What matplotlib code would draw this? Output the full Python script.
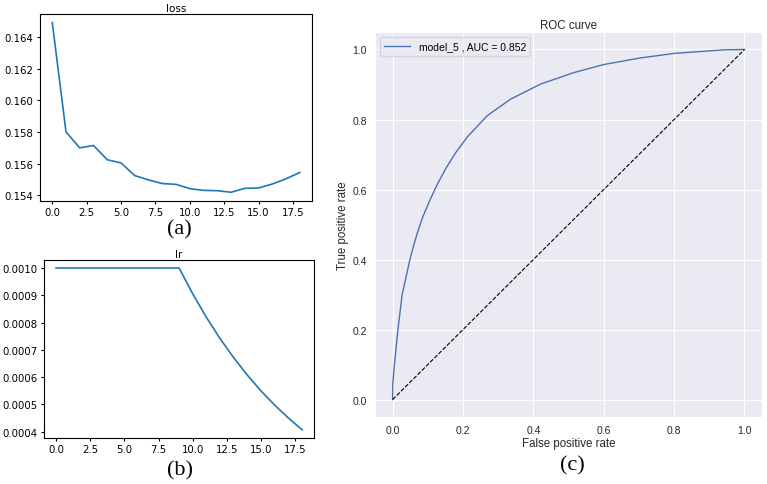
import matplotlib
matplotlib.use('Agg')
import matplotlib.pyplot as plt
import seaborn as sns

epochs = list(range(19))
loss = [0.1649, 0.1580, 0.1570, 0.15715, 0.15625, 0.15605, 0.15525, 0.15498,
        0.15475, 0.15470, 0.15443, 0.15432, 0.15430, 0.15420, 0.15445, 0.15447,
        0.15472, 0.15505, 0.15545]
lr = [0.0010, 0.0010, 0.0010, 0.0010, 0.0010, 0.0010, 0.0010, 0.0010, 0.0010,
      0.0010, 0.000905, 0.000819, 0.000741, 0.000671, 0.000607, 0.000549,
      0.000497, 0.000450, 0.000407]

fpr = [0.0, 0.0, 0.005, 0.015, 0.027, 0.049, 0.061, 0.070, 0.085, 0.106,
       0.127, 0.151, 0.179, 0.212, 0.269, 0.335, 0.420, 0.515, 0.600,
       0.705, 0.802, 0.941, 1.0]
tpr = [0.0, 0.04, 0.10, 0.20, 0.30, 0.40, 0.445, 0.475, 0.52, 0.57,
       0.615, 0.66, 0.705, 0.75, 0.811, 0.858, 0.901, 0.934, 0.957,
       0.976, 0.989, 0.999, 1.0]
chance = [0.0, 1.0]
roc_label = 'model_5 , AUC = 0.852'
panel_labels = ['(a)', '(b)', '(c)']


def main() -> None:
    fig = plt.figure(figsize=(7.67, 4.85), dpi=100)

    # (a) loss
    ax_a = fig.add_axes([0.052, 0.584, 0.355, 0.385])
    ax_a.plot(epochs, loss, color='#1f77b4', linewidth=1.2)
    ax_a.set_title('loss', fontsize=7.5, pad=2)
    ax_a.set_yticks([0.154, 0.156, 0.158, 0.160, 0.162, 0.164])
    ax_a.tick_params(labelsize=7.3, length=2.5, pad=2)

    # (b) lr
    ax_b = fig.add_axes([0.057, 0.095, 0.353, 0.367])
    ax_b.plot(epochs, lr, color='#1f77b4', linewidth=1.2)
    ax_b.set_title('lr', fontsize=7.5, pad=2)
    ax_b.tick_params(labelsize=7.3, length=2.5, pad=2)

    # (c) ROC curve, seaborn style
    with sns.axes_style('darkgrid'):
        ax_c = fig.add_axes([0.489, 0.138, 0.5046, 0.794])
    ax_c.plot(fpr, tpr, color='#4c72b0', linewidth=1.0, label=roc_label)
    ax_c.plot(chance, chance, 'k--', linewidth=0.8)
    ax_c.set_title('ROC curve', fontsize=8.3, pad=3, color='.15',
                   family='Liberation Sans')
    ax_c.set_xlabel('False positive rate', fontsize=8.3, labelpad=1,
                    color='.15', family='Liberation Sans')
    ax_c.set_ylabel('True positive rate', fontsize=8.3, labelpad=2,
                    color='.15', family='Liberation Sans')
    ax_c.tick_params(labelsize=7.5, length=0, pad=6, labelcolor='.15',
                     labelfontfamily='Liberation Sans')
    leg = ax_c.legend(loc='upper left', frameon=True,
                      prop={'family': 'Liberation Sans', 'size': 7.5},
                      handlelength=2.5)
    leg.get_frame().set_facecolor('#EAEAF2')
    leg.get_frame().set_edgecolor('#d0d0d8')

    serif = ['Liberation Serif', 'DejaVu Serif']
    fig.text(179 / 767, 1 - 230 / 485, panel_labels[0], fontsize=16,
             family=serif, ha='center', va='center')
    fig.text(180 / 767, 1 - 471 / 485, panel_labels[1], fontsize=16,
             family=serif, ha='center', va='center')
    fig.text(572 / 767, 1 - 466 / 485, panel_labels[2], fontsize=16,
             family=serif, ha='center', va='center')

    fig.savefig('out.png', dpi=100)


if __name__ == '__main__':
    main()
